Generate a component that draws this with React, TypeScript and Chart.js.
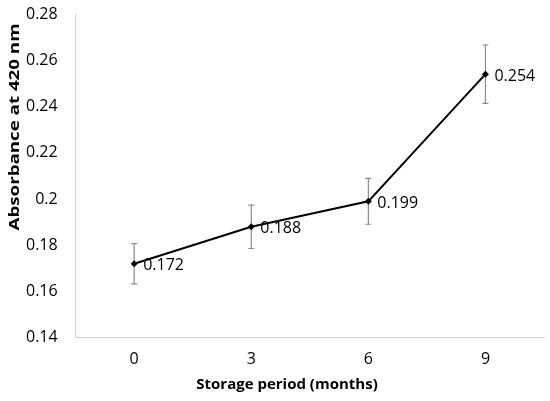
import React, { useEffect, useRef } from "react";
import { Chart, registerables } from "chart.js";

Chart.register(...registerables);

const categories = ["0", "3", "6", "9"];
const absorbance = [0.172, 0.188, 0.199, 0.254];
const errors = [0.0087, 0.0094, 0.0099, 0.0126];
const yTicks = [0.14, 0.16, 0.18, 0.2, 0.22, 0.24, 0.26, 0.28];
const xTitle = "Storage period (months)";
const yTitle = "Absorbance at 420 nm";

const FONT = "'Open Sans', 'DejaVu Sans', sans-serif";

const errorBarPlugin = {
  id: "errorBars",
  afterDatasetsDraw(chart: any) {
    const ctx = chart.ctx;
    const meta = chart.getDatasetMeta(0);
    const y = chart.scales.y;
    ctx.save();
    ctx.strokeStyle = "#8c8c8c";
    ctx.lineWidth = 1.2;
    meta.data.forEach((pt: any, i: number) => {
      const x = pt.x;
      const top = y.getPixelForValue(absorbance[i] + errors[i]);
      const bot = y.getPixelForValue(absorbance[i] - errors[i]);
      ctx.beginPath();
      ctx.moveTo(x, top);
      ctx.lineTo(x, bot);
      ctx.moveTo(x - 3, top);
      ctx.lineTo(x + 3, top);
      ctx.moveTo(x - 3, bot);
      ctx.lineTo(x + 3, bot);
      ctx.stroke();
    });
    ctx.fillStyle = "#000";
    meta.data.forEach((pt: any) => {
      ctx.beginPath();
      ctx.moveTo(pt.x, pt.y - 3.5);
      ctx.lineTo(pt.x + 3.5, pt.y);
      ctx.lineTo(pt.x, pt.y + 3.5);
      ctx.lineTo(pt.x - 3.5, pt.y);
      ctx.closePath();
      ctx.fill();
    });
    ctx.font = `16px ${FONT}`;
    ctx.textAlign = "left";
    ctx.textBaseline = "middle";
    ctx.fillStyle = "#000";
    meta.data.forEach((pt: any, i: number) => {
      ctx.fillText(String(absorbance[i]), pt.x + 9, pt.y + 2);
    });

    ctx.font = `bold 15px ${FONT}`;
    ctx.textAlign = "center";
    ctx.textBaseline = "middle";
    ctx.fillText(xTitle, 287, 385);

    ctx.save();
    ctx.translate(15, 127);
    ctx.rotate(-Math.PI / 2);
    ctx.font = `bold 15px ${FONT}`;
    const w = ctx.measureText(yTitle).width;
    ctx.scale(207 / w, 1);
    ctx.fillText(yTitle, 0, 0);
    ctx.restore();
    ctx.restore();
  },
};

export default function App() {
  const ref = useRef<HTMLCanvasElement>(null);
  useEffect(() => {
    const chart = new Chart(ref.current!, {
      type: "line",
      data: {
        labels: categories,
        datasets: [
          {
            data: absorbance,
            borderColor: "#000",
            borderWidth: 2,
            pointRadius: 0,
            pointHoverRadius: 0,
            tension: 0,
            fill: false,
          },
        ],
      },
      options: {
        responsive: false,
        animation: false,
        events: [],
        layout: { padding: { top: 14, right: 6, left: 8, bottom: 20 } },
        plugins: { legend: { display: false }, tooltip: { enabled: false } },
        scales: {
          x: {
            offset: true,
            grid: { display: false, drawTicks: false },
            border: { display: true, color: "#d0d0d0", width: 1 },
            ticks: { color: "#000", font: { family: FONT, size: 16 }, padding: 12 },
          },
          y: {
            min: 0.14,
            max: 0.28,
            afterBuildTicks(axis: any) {
              axis.ticks = yTicks.map((v) => ({ value: v }));
            },
            afterFit(axis: any) {
              axis.paddingTop = 0;
              axis.paddingBottom = 0;
            },
            grid: { display: false, drawTicks: false },
            border: { display: true, color: "#d0d0d0", width: 1 },
            ticks: {
              color: "#000",
              font: { family: FONT, size: 16 },
              padding: 18,
              callback: (v: any) => String(Number(v.toFixed(2))),
            },
          },
        },
      },
      plugins: [errorBarPlugin],
    });
    return () => chart.destroy();
  }, []);
  return (
    <div style={{ position: "absolute", left: 0, top: 0, width: 550, height: 401, background: "#fff" }}>
      <canvas ref={ref} width={550} height={401} />
    </div>
  );
}
